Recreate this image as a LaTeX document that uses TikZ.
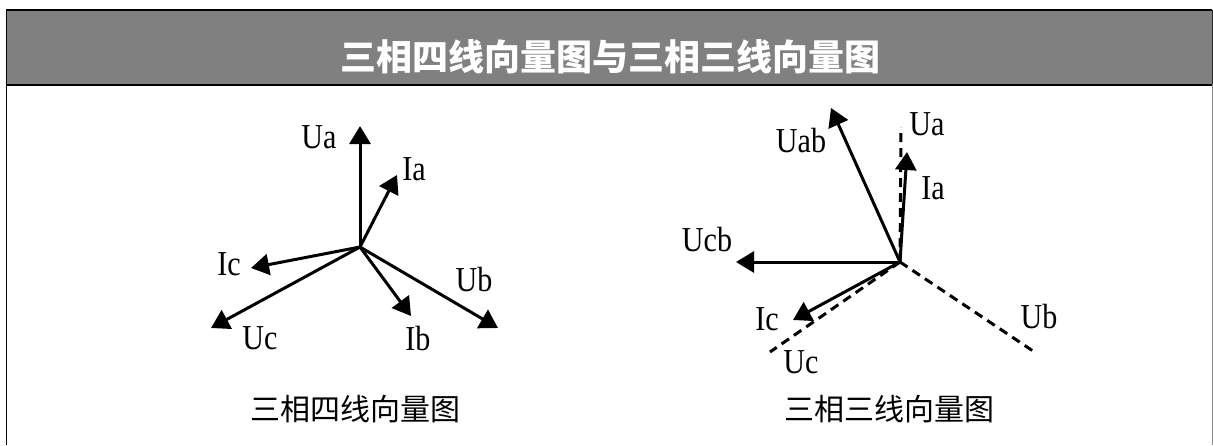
\documentclass[tikz,border=0pt]{standalone}
\usepackage{fontspec}
\setmainfont{Liberation Serif}
\newfontfamily\lblfont{Liberation Serif}[FakeStretch=0.86]
\newfontfamily\cjk{Noto Sans CJK SC}
\usetikzlibrary{arrows.meta}
\usetikzlibrary{positioning}

\begin{document}
\begin{tikzpicture}[x=1pt, y=-1pt,
    vec/.style={line width=3pt, -{Triangle[length=18pt,width=21pt]}},
    dashvec/.style={line width=3pt, dash pattern=on 9pt off 6pt},
    lbl/.style={font=\lblfont\fontsize{35}{35}\selectfont, inner sep=0pt},
    capt/.style={font=\cjk\fontsize{30}{30}\selectfont, inner sep=0pt}]
				\useasboundingbox (0,0) rectangle (1213,445);
				% frame and title band
				\fill[fill=white] (0,0) rectangle (1213,445);
				\fill[fill=black!50] (6,10) rectangle (1212,84);
				\draw[line width=1.5pt] (6,10) -- (1212,10);
				\draw[line width=2pt] (6,84.5) -- (1212,84.5);
				\draw[line width=1.6pt] (6.5,9.5) -- (6.5,445);
				\draw[line width=1pt, black!45] (1212,84) -- (1212,445);
				\draw[line width=1pt, black!85] (1212,10) -- (1212,84);
				\node[font=\cjk\bfseries\fontsize{36}{36}\selectfont, text=white, inner sep=0pt] (title) at (610,57) {三相四线向量图与三相三线向量图};

				% four-wire diagram
				\coordinate (O1) at (360,247);
				\coordinate (Ua1) at (360,126);
				\coordinate (Ia1) at (397,175);
				\coordinate (Ic1) at (251,268);
				\coordinate (Uc1) at (211,328);
				\coordinate (Ib1) at (411,316);
				\coordinate (Ub1) at (498,328);
				\draw[vec] (O1) -- (Ua1);
				\draw[vec] (O1) -- (Ia1);
				\draw[vec] (O1) -- (Ic1);
				\draw[vec] (O1) -- (Uc1);
				\draw[vec] (O1) -- (Ib1);
				\draw[vec] (O1) -- (Ub1);
				\node[lbl] (lUa1) at (319,137) {Ua};
				\node[lbl] (lIa1) at (414,169) {Ia};
				\node[lbl] (lIc1) at (229,264) {Ic};
				\node[lbl] (lUc1) at (260,338) {Uc};
				\node[lbl] (lIb1) at (418,339) {Ib};
				\node[lbl] (lUb1) at (474,280) {Ub};
				\node[capt] (cap1) at (355,409) {三相四线向量图};

				% three-wire diagram
				\coordinate (O2) at (900,262);
				\coordinate (Ua2) at (901,127);
				\coordinate (Uc2) at (770,352);
				\coordinate (Ub2) at (1033,351);
				\coordinate (Uab2) at (831,108);
				\coordinate (Ia2) at (907,152);
				\coordinate (Ucb2) at (736,262);
				\coordinate (Ic2) at (793,320);
				\draw[dashvec] (O2) -- (Ua2);
				\draw[dashvec] (O2) -- (Uc2);
				\draw[dashvec] (O2) -- (Ub2);
				\draw[vec] (O2) -- (Uab2);
				\draw[vec] (O2) -- (Ia2);
				\draw[vec] (O2) -- (Ucb2);
				\draw[vec] (O2) -- (Ic2);
				\node[lbl] (lUab2) at (801,141) {Uab};
				\node[lbl] (lUa2) at (927,124) {Ua};
				\node[lbl] (lIa2) at (933,188) {Ia};
				\node[lbl] (lUcb2) at (707,240) {Ucb};
				\node[lbl] (lIc2) at (767,319) {Ic};
				\node[lbl] (lUc2) at (801,362) {Uc};
				\node[lbl] (lUb2) at (1039,317) {Ub};
				\node[capt] (cap2) at (889,409) {三相三线向量图};
			\end{tikzpicture}
\end{document}
